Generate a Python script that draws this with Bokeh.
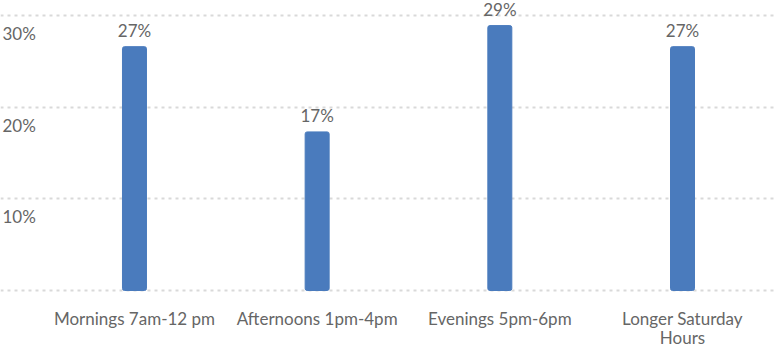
from bokeh.plotting import figure
from bokeh.models import Range1d, FixedTicker, ColumnDataSource
from bokeh.core.properties import value
from bokeh.embed import file_html
from bokeh.resources import INLINE

categories = ["Mornings 7am-12 pm", "Afternoons 1pm-4pm", "Evenings 5pm-6pm", "Longer Saturday\nHours"]
shares = [26.6, 17.3, 28.9, 26.6]
y_ticks = [10, 20, 30]
y_tick_labels = ["10%", "20%", "30%"]

FONT = "Lato"
FS = "17px"
TXT = "#666666"
BAR = "#4a7bbd"

X0, X1 = -0.7334, 3.5036
xs = list(range(len(categories)))
src = ColumnDataSource(dict(x=xs, y=shares, lab=[f"{round(v)}%" for v in shares]))
csrc = ColumnDataSource(dict(x=xs, y=[0] * len(xs), t=categories))

p = figure(width=774, height=347, output_backend="svg", toolbar_location=None,
           x_range=Range1d(X0, X1), y_range=Range1d(-6.218, 31.636),
           min_border_left=0, min_border_right=0, min_border_top=0, min_border_bottom=0)
p.outline_line_color = None
p.background_fill_color = "white"
p.border_fill_color = "white"
p.xaxis.visible = False
p.yaxis.visible = False

p.xgrid.grid_line_color = None
p.ygrid.ticker = FixedTicker(ticks=[0] + y_ticks)
p.ygrid.grid_line_color = "#d9d9d9"
p.ygrid.grid_line_width = 2
p.ygrid.grid_line_dash = "3 4"

p.vbar(x="x", top="y", width=24 / 182.7, bottom=0, source=src, color=BAR, border_radius=2)
p.text(x="x", y="y", text="lab", source=src, text_align="center", text_baseline="bottom",
       y_offset=-6, text_font=value(FONT), text_font_size=FS, text_color=TXT)

# y tick labels drawn below gridlines as in reference
ysrc = ColumnDataSource(dict(x=[X0] * len(y_ticks), y=y_ticks, t=y_tick_labels))
p.text(x="x", y="y", text="t", source=ysrc, text_align="left", text_baseline="middle",
       x_offset=2, y_offset=18, text_font=value(FONT), text_font_size=FS, text_color=TXT)

# category labels under the baseline
p.text(x="x", y="y", text="t", source=csrc, text_align="center", text_baseline="top",
       y_offset=17, text_line_height=0.95, text_font=value(FONT), text_font_size=FS, text_color=TXT)

open("out.html", "w").write(file_html(p, INLINE))
